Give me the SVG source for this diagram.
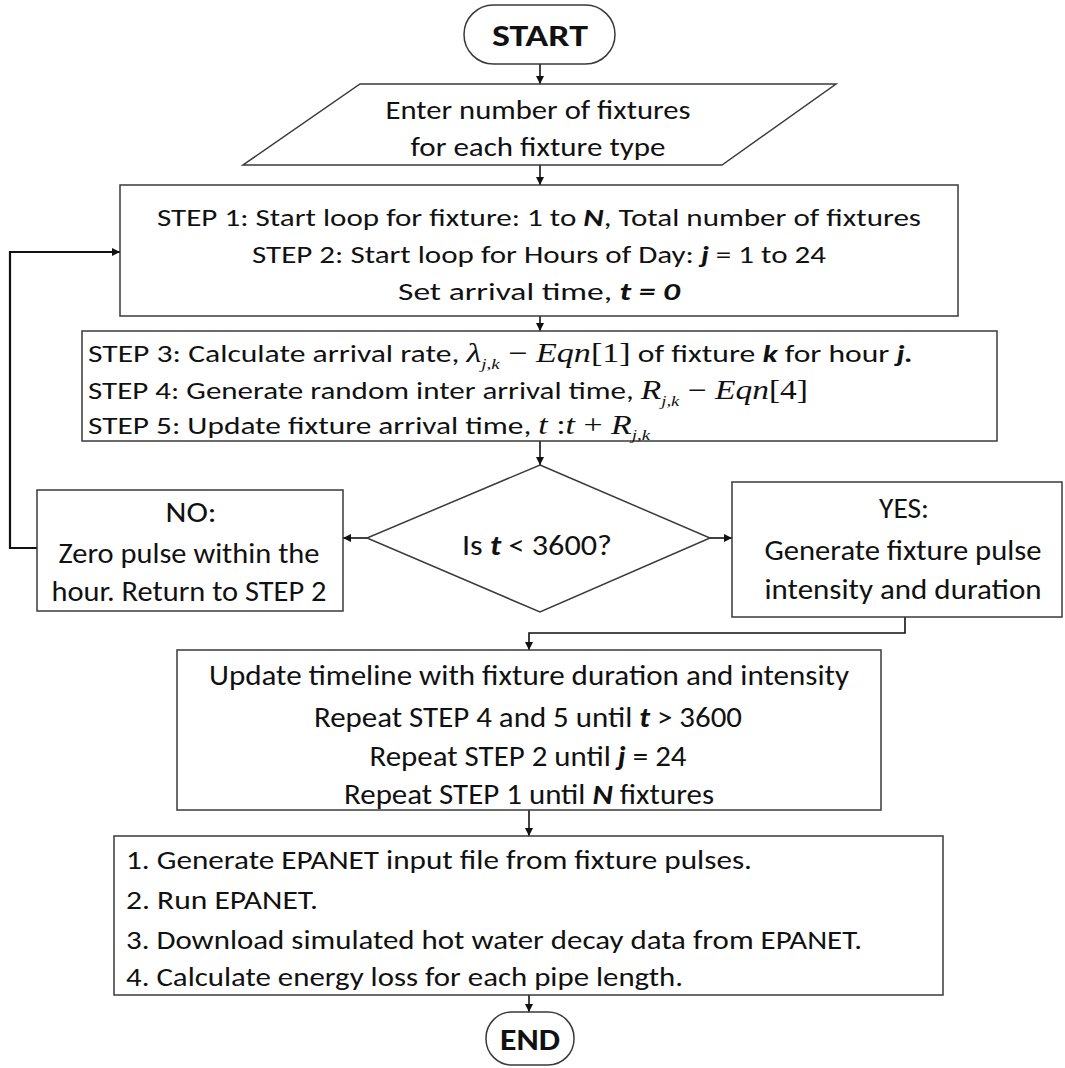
<svg xmlns="http://www.w3.org/2000/svg" width="1065" height="1068" viewBox="0 0 1065 1068">
<style>
.box{fill:#fff;stroke:#3a3a3a;stroke-width:1.5}
.t{font-family:Carlito,Lato,"Liberation Sans",sans-serif;fill:#111;font-size:25px}
.c{text-anchor:middle}
.bi{font-weight:bold;font-style:italic}
.m{font-family:"Liberation Serif",serif;font-style:italic}
.mu{font-family:"Liberation Serif",serif}
.sub{font-size:15px}
.conn{fill:none;stroke:#111;stroke-width:1.6}
.loop{fill:none;stroke:#111;stroke-width:2.2}
</style>
<defs>
<marker id="ah" viewBox="0 0 10 10" refX="10" refY="5" markerWidth="9" markerHeight="8" markerUnits="userSpaceOnUse" orient="auto">
<path d="M0,0 L10,5 L0,10 z" fill="#111"/>
</marker>
</defs>
<rect width="1065" height="1068" fill="#fff"/>

<g id="connectors">
<path class="conn" d="M540,64 V84" marker-end="url(#ah)"/>
<path class="conn" d="M540,165 V185" marker-end="url(#ah)"/>
<path class="conn" d="M540,316 V331" marker-end="url(#ah)"/>
<path class="conn" d="M540,441 V465" marker-end="url(#ah)"/>
<path class="conn" d="M367,538 H343" marker-end="url(#ah)"/>
<path class="conn" d="M710,538 H732" marker-end="url(#ah)"/>
<path class="loop" d="M37,548 H10 V252 H120" marker-end="url(#ah)"/>
<path class="conn" d="M905,617 V633 H529 V650" marker-end="url(#ah)"/>
<path class="conn" d="M529,810 V836" marker-end="url(#ah)"/>
<path class="conn" d="M529,995 V1012" marker-end="url(#ah)"/>
</g>

<g id="start">
<rect class="box" x="464" y="5" width="151" height="59" rx="29.5"/>
<text class="t c" x="540" y="46" style="font-size:31px;font-weight:bold" textLength="96" lengthAdjust="spacingAndGlyphs">START</text>
</g>

<g id="input">
<polygon class="box" points="360,84 836,84 722,165 243,165"/>
<text class="t c" x="538" y="119" style="font-size:26px" textLength="305" lengthAdjust="spacingAndGlyphs">Enter number of fixtures</text>
<text class="t c" x="538" y="156" style="font-size:26px" textLength="255" lengthAdjust="spacingAndGlyphs">for each fixture type</text>
</g>

<g id="step12">
<rect class="box" x="120" y="185" width="838" height="131"/>
<text class="t c" x="539" y="226" textLength="764" lengthAdjust="spacingAndGlyphs">STEP 1: Start loop for fixture: 1 to <tspan class="bi">N</tspan>, Total number of fixtures</text>
<text class="t c" x="539" y="263" textLength="574" lengthAdjust="spacingAndGlyphs">STEP 2: Start loop for Hours of Day: <tspan class="bi">j</tspan> = 1 to 24</text>
<text class="t c" x="539" y="300" textLength="282" lengthAdjust="spacingAndGlyphs">Set arrival time, <tspan class="bi">t = 0</tspan></text>
</g>

<g id="step345">
<rect class="box" x="82" y="331" width="915" height="110"/>
<text class="t" x="88" y="362" textLength="825" lengthAdjust="spacingAndGlyphs">STEP 3: Calculate arrival rate, <tspan class="m" style="font-size:27px">λ</tspan><tspan class="m sub" dy="7">j,k</tspan><tspan class="mu" style="font-size:27px" dy="-7"> − </tspan><tspan class="m" style="font-size:27px">Eqn</tspan><tspan class="mu" style="font-size:27px">[1]</tspan> of fixture <tspan class="bi">k</tspan> for hour <tspan class="bi">j.</tspan></text>
<text class="t" x="88" y="399" textLength="720" lengthAdjust="spacingAndGlyphs">STEP 4: Generate random inter arrival time, <tspan class="m" style="font-size:27px">R</tspan><tspan class="m sub" dy="7">j,k</tspan><tspan class="mu" style="font-size:27px" dy="-7"> − </tspan><tspan class="m" style="font-size:27px">Eqn</tspan><tspan class="mu" style="font-size:27px">[4]</tspan></text>
<text class="t" x="88" y="434" textLength="562" lengthAdjust="spacingAndGlyphs">STEP 5: Update fixture arrival time, <tspan class="m" style="font-size:27px">t</tspan><tspan class="mu" style="font-size:27px"> :</tspan><tspan class="m" style="font-size:27px">t</tspan><tspan class="mu" style="font-size:27px"> + </tspan><tspan class="m" style="font-size:27px">R</tspan><tspan class="m sub" dy="6">j,k</tspan></text>
</g>

<g id="decision">
<polygon class="box" points="540,465 710,538 540,612 367,538"/>
<text class="t c" x="537" y="555" style="font-size:29px" textLength="150" lengthAdjust="spacingAndGlyphs">Is <tspan class="bi">t</tspan> &lt; 3600?</text>
</g>

<g id="no">
<rect class="box" x="37" y="490" width="306" height="121"/>
<text class="t c" x="191" y="522" style="font-size:29px" textLength="51" lengthAdjust="spacingAndGlyphs">NO:</text>
<text class="t c" x="189" y="563" style="font-size:29px" textLength="261" lengthAdjust="spacingAndGlyphs">Zero pulse within the</text>
<text class="t c" x="189" y="601" style="font-size:29px" textLength="275" lengthAdjust="spacingAndGlyphs">hour. Return to STEP 2</text>
</g>

<g id="yes">
<rect class="box" x="732" y="482" width="330" height="135"/>
<text class="t c" x="904" y="518" style="font-size:29px" textLength="50" lengthAdjust="spacingAndGlyphs">YES:</text>
<text class="t c" x="903" y="560" style="font-size:29px" textLength="277" lengthAdjust="spacingAndGlyphs">Generate fixture pulse</text>
<text class="t c" x="903" y="599" style="font-size:29px" textLength="277" lengthAdjust="spacingAndGlyphs">intensity and duration</text>
</g>

<g id="update">
<rect class="box" x="177" y="650" width="704" height="160"/>
<text class="t c" x="529" y="685" style="font-size:28px" textLength="640" lengthAdjust="spacingAndGlyphs">Update timeline with fixture duration and intensity</text>
<text class="t c" x="528" y="727" style="font-size:28px" textLength="428" lengthAdjust="spacingAndGlyphs">Repeat STEP 4 and 5 until <tspan class="bi">t</tspan> &gt; 3600</text>
<text class="t c" x="528" y="766" style="font-size:28px" textLength="317" lengthAdjust="spacingAndGlyphs">Repeat STEP 2 until <tspan class="bi">j</tspan> = 24</text>
<text class="t c" x="529" y="804" style="font-size:28px" textLength="370" lengthAdjust="spacingAndGlyphs">Repeat STEP 1 until <tspan class="bi">N</tspan> fixtures</text>
</g>

<g id="epanet">
<rect class="box" x="114" y="836" width="829" height="159"/>
<text class="t" x="126" y="869" style="font-size:27px" textLength="626" lengthAdjust="spacingAndGlyphs">1.  Generate EPANET input file from fixture pulses.</text>
<text class="t" x="126" y="909" style="font-size:27px" textLength="192" lengthAdjust="spacingAndGlyphs">2.  Run EPANET.</text>
<text class="t" x="126" y="949" style="font-size:27px" textLength="736" lengthAdjust="spacingAndGlyphs">3. Download simulated hot water decay data from EPANET.</text>
<text class="t" x="126" y="986" style="font-size:27px" textLength="557" lengthAdjust="spacingAndGlyphs">4. Calculate energy loss for each pipe length.</text>
</g>

<g id="end">
<rect class="box" x="486" y="1012" width="88" height="53" rx="26"/>
<text class="t c" x="530" y="1050" style="font-size:31px;font-weight:bold" textLength="60" lengthAdjust="spacingAndGlyphs">END</text>
</g>
</svg>
